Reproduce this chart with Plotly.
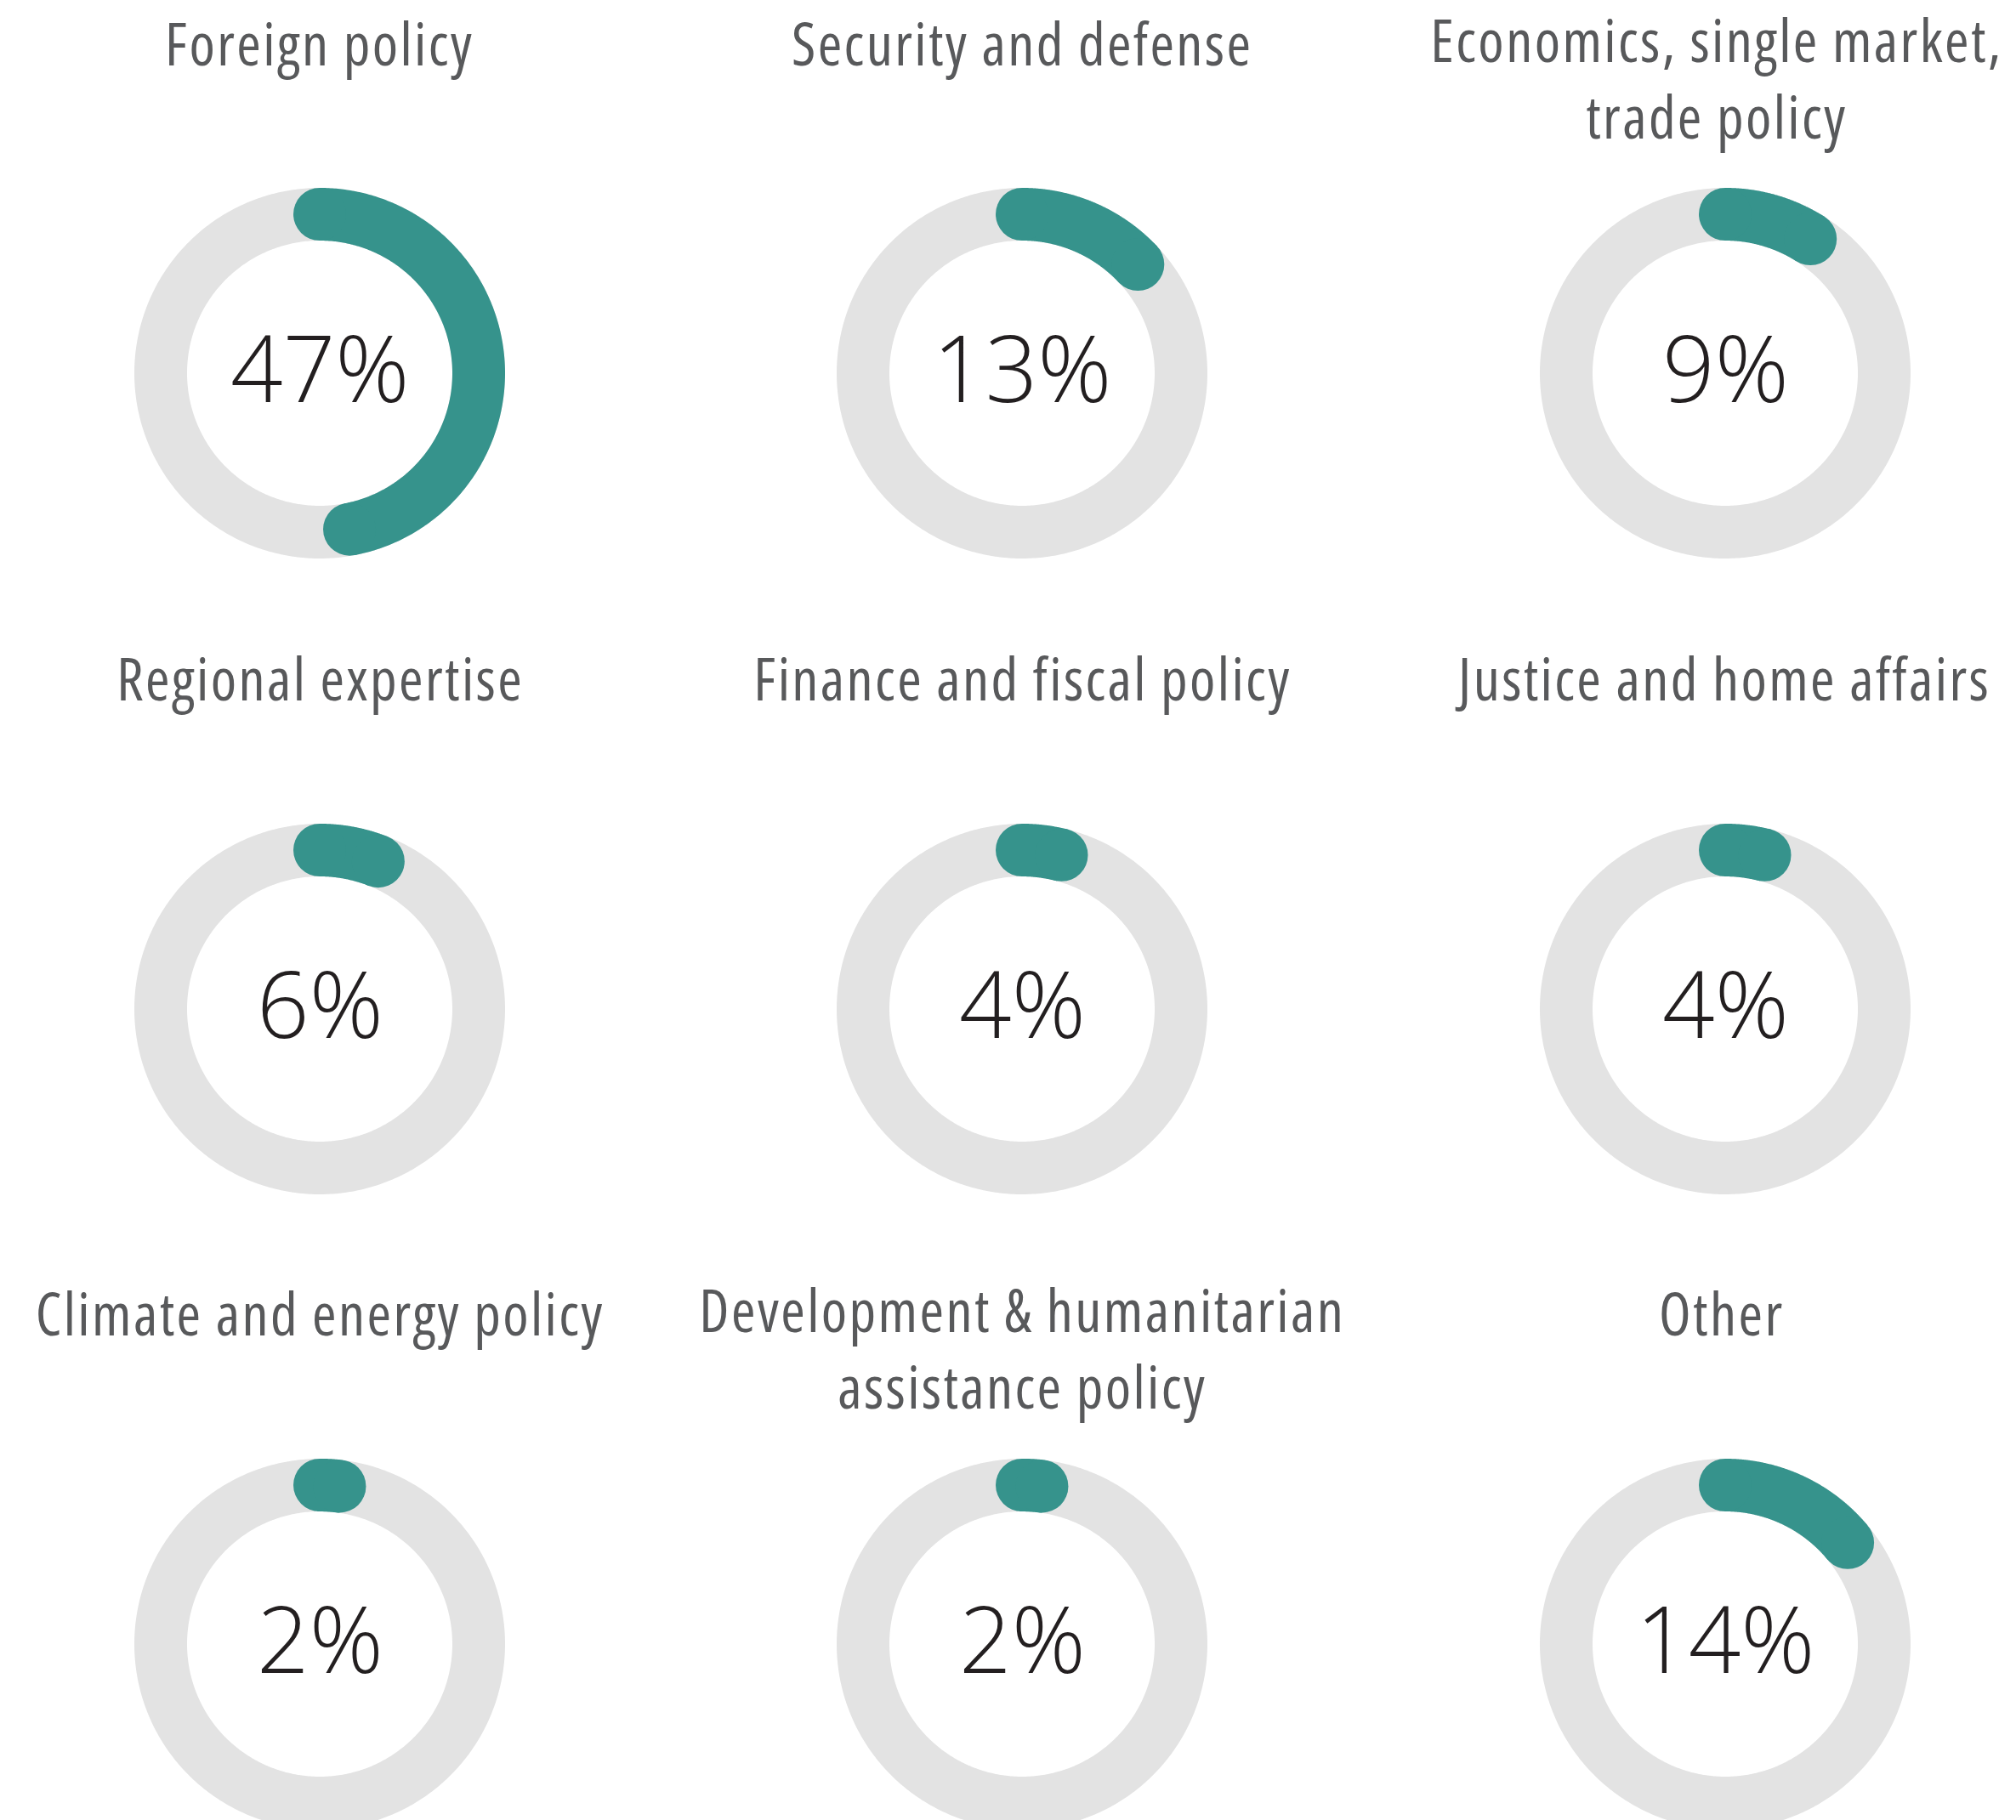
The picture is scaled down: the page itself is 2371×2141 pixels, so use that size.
import numpy as np
import plotly.graph_objects as go

# ---- data ----
categories = [
    "Foreign policy",
    "Security and defense",
    "Economics, single market,<br>trade policy",
    "Regional expertise",
    "Finance and fiscal policy",
    "Justice and home affairs",
    "Climate and energy policy",
    "Development & humanitarian<br>assistance policy",
    "Other",
]
values = [47, 13, 9, 6, 4, 4, 2, 2, 14]
labels = ["47%", "13%", "9%", "6%", "4%", "4%", "2%", "2%", "14%"]

# ---- layout constants (pixels) ----
W, H = 2371, 2141
col_x = [376, 1202, 2029]
row_y = [439, 1187, 1934]
title_col_dx = [0, 0, -4]
R_MID = 187
RING_W = 62
TEAL = "#36938c"
GREY = "#e3e3e3"
TITLE_COLOR = "#58595b"
PCT_COLOR = "#231f20"
TITLE_FONT = "Open Sans, Liberation Sans, sans-serif"
TITLE_SIZE = 69
PCT_FONT = "Open Sans, Liberation Sans, sans-serif"

fig = go.Figure()
annotations = []

for i, (cat, v, lab) in enumerate(zip(categories, values, labels)):
    c, r = i % 3, i // 3
    cx, cy = col_x[c], row_y[r]
    # grey full ring
    th = np.linspace(0, 2 * np.pi * 1.02, 500)
    fig.add_trace(go.Scatter(
        x=cx + R_MID * np.sin(th), y=cy - R_MID * np.cos(th),
        mode="lines", line=dict(color=GREY, width=RING_W, simplify=False),
        hoverinfo="skip", showlegend=False))
    # teal arc proportional to value
    th2 = np.linspace(0, 2 * np.pi * v / 100.0, 300)
    ax = cx + R_MID * np.sin(th2)
    ay = cy - R_MID * np.cos(th2)
    fig.add_trace(go.Scatter(
        x=ax, y=ay, mode="lines", line=dict(color=TEAL, width=RING_W, simplify=False),
        hoverinfo="skip", showlegend=False))
    # rounded caps
    fig.add_trace(go.Scatter(
        x=[ax[0], ax[-1]], y=[ay[0], ay[-1]], mode="markers",
        marker=dict(color=TEAL, size=RING_W, line=dict(width=0)),
        hoverinfo="skip", showlegend=False))
    # percent label
    annotations.append(dict(
        x=cx, y=cy - 8, xref="x", yref="y", text=lab, showarrow=False,
        xanchor="center", yanchor="middle",
        font=dict(family=PCT_FONT, size=108, color=PCT_COLOR, weight=350)))
    # title (one or two lines)
    n_lines = cat.count("<br>") + 1
    base_y = 50 + 747 * r
    ty = base_y + 41 * (n_lines - 1)
    tx = cx + title_col_dx[c] - (6 if (c == 2 and n_lines > 1) else 0)
    annotations.append(dict(
        x=tx, y=ty, xref="x", yref="y", text=cat, showarrow=False,
        xanchor="center", yanchor="middle", align="center",
        font=dict(family=TITLE_FONT, size=TITLE_SIZE, color=TITLE_COLOR)))

fig.update_layout(
    width=W, height=H,
    margin=dict(l=0, r=0, t=0, b=0),
    paper_bgcolor="white", plot_bgcolor="white",
    xaxis=dict(range=[0, W], visible=False, fixedrange=True),
    yaxis=dict(range=[H, 0], visible=False, fixedrange=True),
    annotations=annotations,
    showlegend=False,
)

# page without body margin; condensed face for the titles (reference uses a condensed typeface)
post_js = (
    "var s=document.createElement('style');"
    "s.textContent='html,body{margin:0;padding:0;overflow:hidden;} "
    "text.annotation-text[style*=\"font-size: %dpx\"]{font-stretch:75%% !important;letter-spacing:2.4px;}';"
    "document.head.appendChild(s);" % TITLE_SIZE
)

fig.write_html("out.html", post_script=post_js, config={"displayModeBar": False})
